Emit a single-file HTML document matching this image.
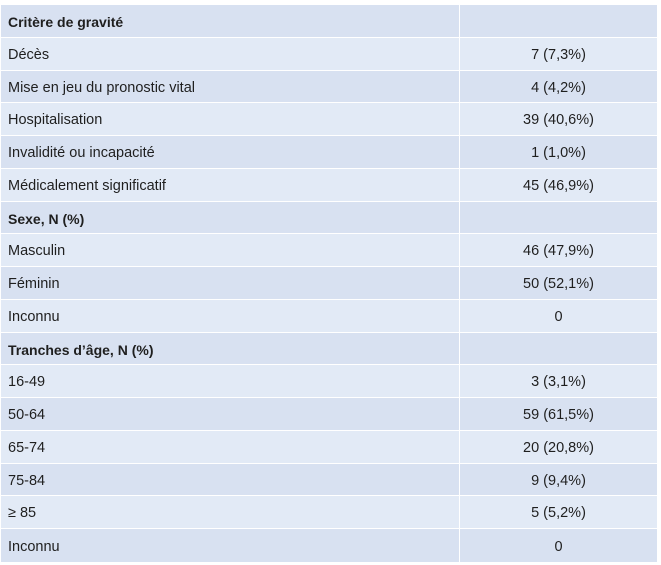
<!DOCTYPE html>
<html>
<head>
<meta charset="utf-8">
<style>
  html, body { margin:0; padding:0; background:#ffffff; }
  body { width:661px; height:565px; position:relative; overflow:hidden;
         font-family:"Liberation Sans", Arial, sans-serif; font-size:14.5px; color:#1f1f1f; }
  .row { position:absolute; left:1px; width:656px; }
  .c1, .c2 { position:absolute; top:0; bottom:1px; display:flex; align-items:center; padding-top:2px; box-sizing:border-box; }
  .c1 { left:0; width:458px; padding-left:7px; }
  .c2 { left:459px; width:197px; justify-content:center; }
  .d .c1, .d .c2 { background:#d8e1f1; }
  .l .c1, .l .c2 { background:#e2eaf6; }
  .b { font-weight:bold; font-size:14px; }
</style>
</head>
<body>
<div class="row d" style="top:5px;height:33px"><div class="c1 b">Critère de gravité</div><div class="c2"></div></div>
<div class="row l" style="top:38px;height:33px"><div class="c1">Décès</div><div class="c2">7 (7,3%)</div></div>
<div class="row d" style="top:71px;height:32px"><div class="c1">Mise en jeu du pronostic vital</div><div class="c2">4 (4,2%)</div></div>
<div class="row l" style="top:103px;height:33px"><div class="c1">Hospitalisation</div><div class="c2">39 (40,6%)</div></div>
<div class="row d" style="top:136px;height:33px"><div class="c1">Invalidité ou incapacité</div><div class="c2">1 (1,0%)</div></div>
<div class="row l" style="top:169px;height:33px"><div class="c1">Médicalement significatif</div><div class="c2">45 (46,9%)</div></div>
<div class="row d" style="top:202px;height:32px"><div class="c1 b">Sexe, N (%)</div><div class="c2"></div></div>
<div class="row l" style="top:234px;height:33px"><div class="c1">Masculin</div><div class="c2">46 (47,9%)</div></div>
<div class="row d" style="top:267px;height:33px"><div class="c1">Féminin</div><div class="c2">50 (52,1%)</div></div>
<div class="row l" style="top:300px;height:33px"><div class="c1">Inconnu</div><div class="c2">0</div></div>
<div class="row d" style="top:333px;height:32px"><div class="c1 b">Tranches d’âge, N (%)</div><div class="c2"></div></div>
<div class="row l" style="top:365px;height:33px"><div class="c1">16-49</div><div class="c2">3 (3,1%)</div></div>
<div class="row d" style="top:398px;height:33px"><div class="c1">50-64</div><div class="c2">59 (61,5%)</div></div>
<div class="row l" style="top:431px;height:33px"><div class="c1">65-74</div><div class="c2">20 (20,8%)</div></div>
<div class="row d" style="top:464px;height:32px"><div class="c1">75-84</div><div class="c2">9 (9,4%)</div></div>
<div class="row l" style="top:496px;height:33px"><div class="c1">≥ 85</div><div class="c2">5 (5,2%)</div></div>
<div class="row d" style="top:529px;height:34px"><div class="c1">Inconnu</div><div class="c2">0</div></div>
</body>
</html>
